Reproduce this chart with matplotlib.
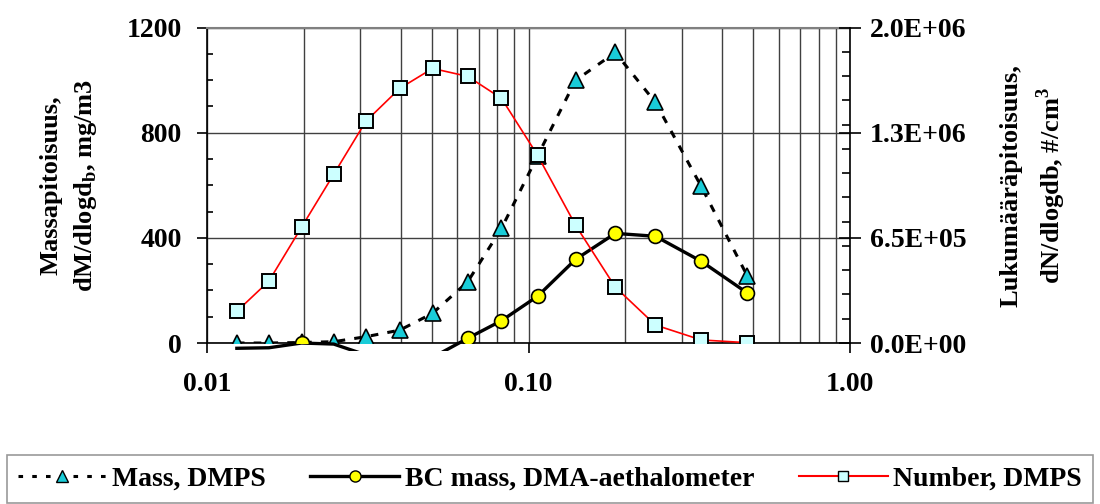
import numpy as np
import matplotlib
matplotlib.use('Agg')
import matplotlib.pyplot as plt
from matplotlib.ticker import FixedLocator, MultipleLocator, NullFormatter, FuncFormatter
from matplotlib.lines import Line2D
from matplotlib.patches import Rectangle

plt.rcParams['font.family'] = 'Liberation Serif'
plt.rcParams['font.weight'] = 'bold'
plt.rcParams['mathtext.fontset'] = 'custom'
plt.rcParams['mathtext.rm'] = 'Liberation Serif:bold'
plt.rcParams['mathtext.bf'] = 'Liberation Serif:bold'

# particle diameter (um)
diam = [0.0124, 0.0156, 0.0197, 0.0248, 0.0312, 0.0398, 0.0503, 0.0647,
        0.0824, 0.1067, 0.140, 0.186, 0.248, 0.344, 0.479]
# mass, DMPS
mass = [0, 0, 2, 5, 24, 49, 113, 233, 436, 712, 999, 1105, 915, 596, 254]
# BC mass, DMA-aethalometer
bc = [-20, -18, 0, -4, -45, -70, -55, 18, 85, 178, 318, 417, 406, 311, 190]
# number, DMPS
number = [1.96e5, 3.83e5, 7.16e5, 1.043e6, 1.37e6, 1.574e6, 1.697e6, 1.648e6,
          1.512e6, 1.160e6, 7.28e5, 3.46e5, 1.11e5, 1.9e4, 2e3]

labels = ['Mass, DMPS', 'BC mass, DMA-aethalometer', 'Number, DMPS']

fig = plt.figure(figsize=(11, 5.04), dpi=100)
ax = fig.add_axes([0.188, 0.3194, 0.585, 0.6260])
ax2 = ax.twinx()

tri_c = '#19CCD8'
sq_c = '#CCFFFF'

# plot area in Excel reaches a few px below the axis line
clip = Rectangle((0, -0.026), 1, 1.026, transform=ax.transAxes)

ax.plot(diam, mass, color='k', lw=2.2, linestyle=(0, (2.5, 3)), zorder=3)
ax.plot(diam, mass, linestyle='none', marker='^', ms=11, mfc=tri_c, mec='k', mew=1.2, zorder=4)
bc = np.array(bc, dtype=float)
l_bc, = ax.plot(diam, bc, color='k', lw=2.4, zorder=5)
l_bc.set_clip_path(clip)
ax.plot(diam, np.where(bc >= 0, bc, np.nan), linestyle='none', marker='o', ms=10,
        mfc='#FFFF00', mec='k', mew=1.2, zorder=6)
ax2.plot(diam, number, color='#FF0000', lw=1.2, marker='s', ms=9.5, mfc=sq_c, mec='k', mew=1.4)

ax.set_xscale('log')
ax.set_xlim(0.01, 1.0)
ax.set_ylim(0, 1200)
ax2.set_ylim(0, 1.95e6)

# x axis
ax.xaxis.set_major_locator(FixedLocator([0.01, 0.1, 1.0]))
ax.xaxis.set_major_formatter(FuncFormatter(lambda v, p: '%.2f' % v))
ax.xaxis.set_minor_formatter(NullFormatter())
ax.tick_params(axis='x', which='major', direction='out', length=7, width=1.2, pad=14, labelsize=20)
ax.tick_params(axis='x', which='minor', length=0)
ax.grid(True, axis='x', which='both', color='#404040', lw=1.0)

# left axis
ax.yaxis.set_major_locator(MultipleLocator(400))
ax.yaxis.set_minor_locator(MultipleLocator(100))
ax.tick_params(axis='y', which='major', direction='out', length=7, width=1.2, pad=11, labelsize=20)
ax.tick_params(axis='y', which='minor', direction='in', length=4.5, width=1.2)
ax.grid(True, axis='y', which='major', color='#404040', lw=1.0)

# right axis
ax2.yaxis.set_major_locator(MultipleLocator(6.5e5))
ax2.yaxis.set_minor_locator(MultipleLocator(1.5e5))
ax2.yaxis.set_major_formatter(FuncFormatter(lambda v, p: '%.1E' % v))
ax2.tick_params(axis='y', which='major', direction='inout', length=16, width=1.2, pad=6, labelsize=20)
ax2.tick_params(axis='y', which='minor', direction='in', length=6, width=1.2)

for s in ['top', 'left', 'bottom']:
    ax2.spines[s].set_visible(False)
ax.spines['right'].set_visible(False)
ax.spines['top'].set_color('#808080')
ax.spines['top'].set_linewidth(1.5)
for s in ['left', 'bottom']:
    ax.spines[s].set_color('k')
    ax.spines[s].set_linewidth(1.2)
ax2.spines['right'].set_color('k')
ax2.spines['right'].set_linewidth(1.2)

ax.set_ylabel('Massapitoisuus,\ndM/dlogd$_{\\mathrm{b}}$, mg/m3', fontsize=19,
              fontweight='bold', linespacing=1.45)
ax.yaxis.set_label_coords(-0.168, 0.5)
ax2.set_ylabel('Lukumääräpitoisuus,\ndN/dlogdb, #/cm$^{3}$', fontsize=19,
               fontweight='bold', linespacing=1.45, rotation=90)
ax2.yaxis.set_label_coords(1.232, 0.5)

handles = [
    Line2D([], [], color='k', lw=2.2, linestyle=(0, (1.5, 3)), marker='^', ms=8, mfc=tri_c, mec='k'),
    Line2D([], [], color='k', lw=2.4, marker='o', ms=8, mfc='#FFFF00', mec='k'),
    Line2D([], [], color='#FF0000', lw=1.5, marker='s', ms=7.5, mfc=sq_c, mec='k'),
]
leg = fig.legend(handles, labels, loc='upper left', bbox_to_anchor=(0.006, 0.097),
                 ncol=3, fontsize=20, frameon=True, fancybox=False, handlelength=3.2,
                 handletextpad=0.2, columnspacing=1.6, borderpad=0.4, borderaxespad=0)
leg.get_frame().set_edgecolor('#808080')
leg.get_frame().set_linewidth(1.2)

fig.savefig('out.png', dpi=100)
